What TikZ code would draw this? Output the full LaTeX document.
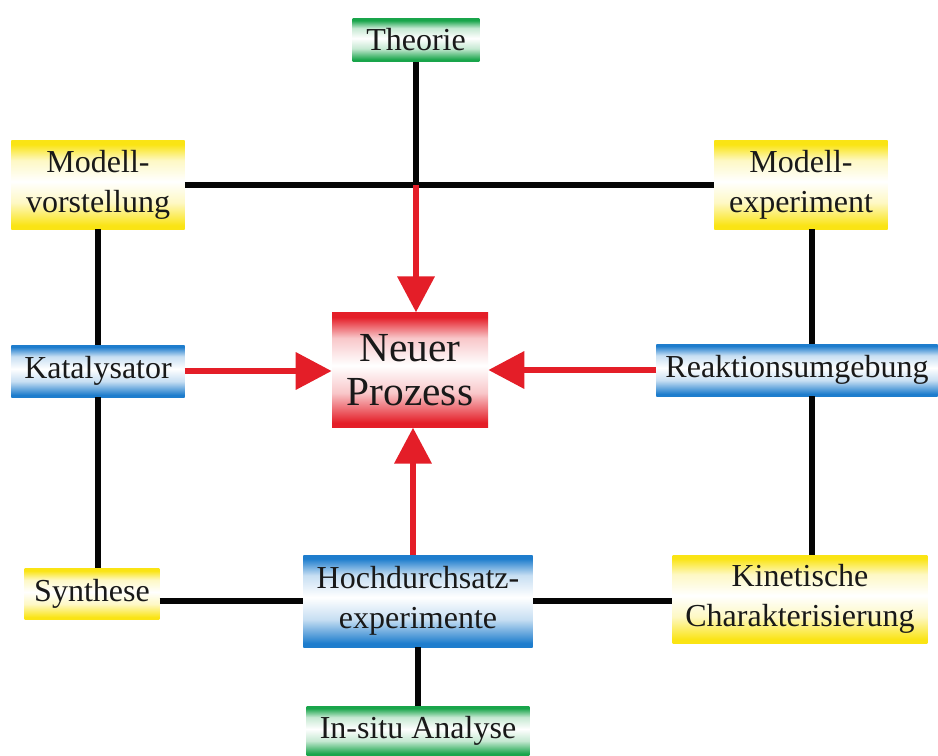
\documentclass[tikz,border=0pt]{standalone}
\usepackage{fontspec}
\setmainfont{Liberation Serif}
\usetikzlibrary{arrows.meta}
\definecolor{cg}{RGB}{25,165,75}
\definecolor{cy}{RGB}{250,228,20}
\definecolor{cb}{RGB}{30,125,205}
\definecolor{cr}{RGB}{228,30,40}
\definecolor{cline}{RGB}{5,5,5}
\pgfdeclareverticalshading{gshade}{100bp}{color(0bp)=(cg); color(27bp)=(cg); color(40bp)=(cg!25!white); color(52bp)=(white); color(64bp)=(cg!25!white); color(73bp)=(cg); color(100bp)=(cg)}
\pgfdeclareverticalshading{yshade}{100bp}{color(0bp)=(cy); color(27bp)=(cy); color(40bp)=(cy!25!white); color(52bp)=(white); color(64bp)=(cy!25!white); color(73bp)=(cy); color(100bp)=(cy)}
\pgfdeclareverticalshading{bshade}{100bp}{color(0bp)=(cb); color(27bp)=(cb); color(40bp)=(cb!25!white); color(52bp)=(white); color(64bp)=(cb!25!white); color(73bp)=(cb); color(100bp)=(cb)}
\pgfdeclareverticalshading{rshade}{100bp}{color(0bp)=(cr); color(27bp)=(cr); color(40bp)=(cr!25!white); color(52bp)=(white); color(64bp)=(cr!25!white); color(73bp)=(cr); color(100bp)=(cr)}
\tikzset{
  box/.style={inner sep=0pt, align=center, font=\fontsize{24}{30}\selectfont, text=black!90},
  gbox/.style={box, shading=gshade},
  ybox/.style={box, shading=yshade},
  bbox/.style={box, shading=bshade},
  rbox/.style={box, shading=rshade, font=\fontsize{31}{33}\selectfont},
  conn/.style={draw=cline, line width=3.8pt},
  redarrow/.style={draw=cr, line width=5pt, -{Triangle[length=27pt,width=27pt]}}
}
\begin{document}
\begin{tikzpicture}[x=0.75pt,y=-0.75pt]
\useasboundingbox (0,0) rectangle (938,756);
\fill[white] (0,0) rectangle (938,756);
% nodes
\node[gbox, minimum width=95pt, minimum height=32pt] (theo) at (416,40) {Theorie};
\node[ybox, minimum width=130pt, minimum height=66pt] (mv) at (98,185) {Modell-\\vorstellung};
\node[ybox, minimum width=130pt, minimum height=66pt] (me) at (801,185) {Modell-\\experiment};
\node[bbox, minimum width=130pt, minimum height=39pt] (kat) at (98,371) {Katalysator};
\node[bbox, minimum width=211pt, minimum height=39pt] (rea) at (797,370) {Reaktionsumgebung};
\node[rbox, minimum width=117pt, minimum height=86pt] (neu) at (410,370) {Neuer\\Prozess};
\node[ybox, minimum width=101pt, minimum height=38pt] (syn) at (92,594) {Synthese};
\node[bbox, minimum width=172pt, minimum height=69pt] (hd) at (418,601) {Hochdurchsatz-\\experimente};
\node[ybox, minimum width=191pt, minimum height=66pt] (kin) at (800,599) {Kinetische\\Charakterisierung};
\node[gbox, minimum width=167pt, minimum height=37pt] (ins) at (418,731) {In-situ Analyse};
% helper coordinates
\coordinate (j) at (416,185);
\coordinate (xl) at (98,0);
\coordinate (xr) at (812,0);
\coordinate (xb) at (413,0);
% black connectors
\draw[conn] (theo.south) -- (j);
\draw[conn] (mv.east) -- (me.west);
\draw[conn] (mv.south -| xl) -- (kat.north -| xl);
\draw[conn] (kat.south -| xl) -- (syn.north -| xl);
\draw[conn] (me.south -| xr) -- (rea.north -| xr);
\draw[conn] (rea.south -| xr) -- (kin.north -| xr);
\draw[conn] (syn.east |- hd) -- (hd.west);
\draw[conn] (hd.east) -- (kin.west |- hd);
\draw[conn] (hd.south) -- (ins.north);
% red arrows
\draw[redarrow] (j) -- (neu.north -| j);
\draw[redarrow] (kat.east) -- (neu.west |- kat.east);
\draw[redarrow] (rea.west) -- (neu.east |- rea.west);
\draw[redarrow] (hd.north -| xb) -- (neu.south -| xb);
\end{tikzpicture}
\end{document}
